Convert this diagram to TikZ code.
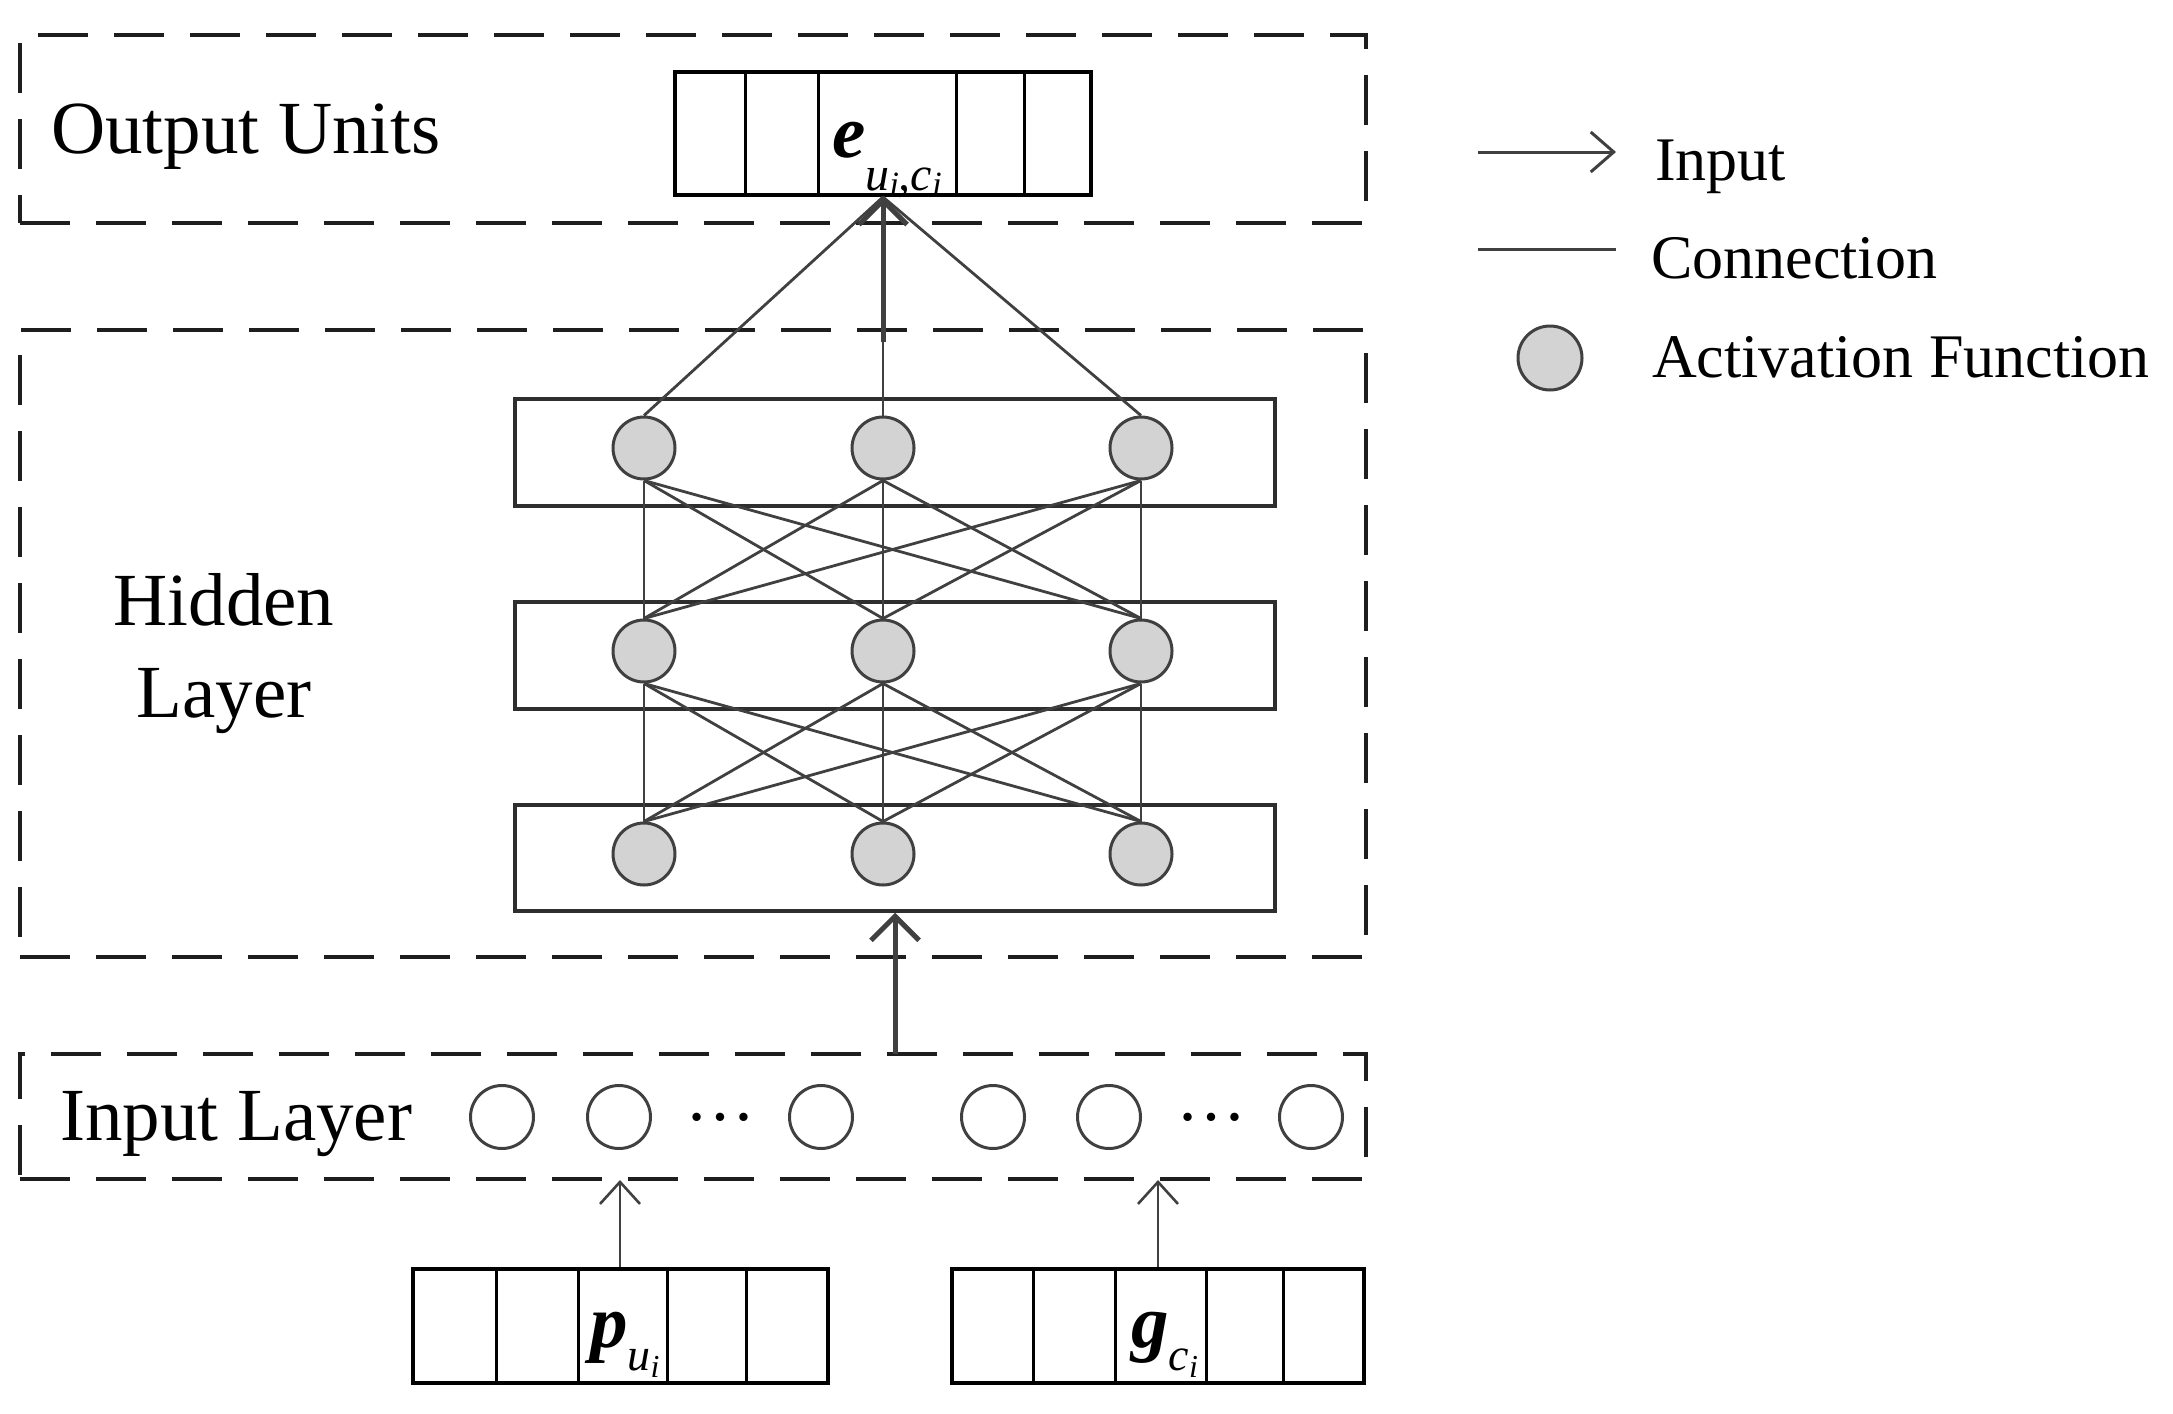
\documentclass[tikz,border=0pt]{standalone}
\usepackage{fontspec}
\setmainfont{Liberation Serif}
\usetikzlibrary{arrows.meta}
\definecolor{dline}{HTML}{1E1E1E}
\definecolor{rline}{HTML}{2E2E2E}
\definecolor{cline}{HTML}{404040}
\definecolor{nfill}{HTML}{D3D3D3}
\begin{document}
\begin{tikzpicture}[x=1pt,y=-1pt,
  dbox/.style={draw=dline, line width=3.5pt, dash pattern=on 50pt off 26pt, rectangle, inner sep=0pt},
  hrect/.style={draw=rline, line width=3.5pt, rectangle, inner sep=0pt, minimum width=760pt},
  vecbox/.style={draw=black, line width=4pt, rectangle, inner sep=0pt},
  divl/.style={draw=black, line width=3pt},
  hnode/.style={circle, draw=cline, fill=nfill, line width=3pt, minimum size=62pt, inner sep=0pt},
  inode/.style={circle, draw=cline, line width=3pt, minimum size=63pt, inner sep=0pt},
  conn/.style={draw=cline, line width=2.8pt},
  bigarrow/.style={draw=cline, line width=5pt, -{Straight Barb[length=24pt, width=48pt]}},
  smallarrow/.style={draw=cline, line width=2.6pt, -{Straight Barb[length=22pt, width=40pt]}},
  bigtext/.style={font=\fontsize{75}{90}\selectfont, inner sep=0pt},
  legtext/.style={font=\fontsize{62}{74}\selectfont, inner sep=0pt, anchor=base west},
  lab/.style={font=\fontsize{75}{90}\selectfont, inner sep=0pt, anchor=base west}
]
\useasboundingbox (0,0) rectangle (2173,1413);

% dashed layer boxes
\node[dbox, minimum width=1346pt, minimum height=188pt] (obox) at (693,129) {};
\node[dbox, minimum width=1346pt, minimum height=627pt] (hbox) at (693,643.5) {};
\node[dbox, minimum width=1346pt, minimum height=125pt] (ibox) at (693,1116.5) {};

% layer labels
\node[bigtext, anchor=base west] (outlab) at (51,153) {Output Units};
\node[bigtext, anchor=base] (hidlab1) at (224,625) {Hidden};
\node[bigtext, anchor=base] (hidlab2) at (224,717) {Layer};
\node[bigtext, anchor=base west] (inlab) at (60,1140) {Input Layer};

% output vector
\node[vecbox, minimum width=416pt, minimum height=123pt] (out) at (883,133.5) {};
\foreach \x in {745,818,956,1024} \draw[divl] (\x,72) -- (\x,195);
\node[lab] (elab) at (832,157) {\textbf{\textit{e}}\raisebox{-33pt}{\fontsize{48}{48}\selectfont\itshape u\raisebox{-5pt}{\fontsize{34}{34}\selectfont i},c\raisebox{-5pt}{\fontsize{34}{34}\selectfont i}}};

% hidden rectangles
\node[hrect, minimum height=107pt] (hr1) at (895,452.5) {};
\node[hrect, minimum height=107pt] (hr2) at (895,655.5) {};
\node[hrect, minimum height=106pt] (hr3) at (895,858) {};

% hidden nodes
\foreach \r/\y in {1/448,2/651,3/854}{
  \node[hnode] (h\r1) at (644,\y) {};
  \node[hnode] (h\r2) at (883,\y) {};
  \node[hnode] (h\r3) at (1141,\y) {};
}

% full connections between hidden rows
\foreach \a/\b in {1/2,2/3}{
  \foreach \i in {1,2,3}{
    \foreach \j in {1,2,3}{
      \draw[conn] (h\a\i.south) -- (h\b\j.north);
    }
  }
}

% connections to output
\draw[conn] (h11.north) -- (out.south);
\draw[conn] (h12.north) -- (out.south);
\draw[conn] (h13.north) -- (out.south);
\coordinate (oarr) at (883,342);
\draw[bigarrow] (oarr) -- (out.south);

% input arrow to hidden layer
\coordinate (iarr) at (895,1054);
\draw[bigarrow] (iarr) -- (hr3.south);

% input layer units
\node[inode] (i1) at (502,1117) {};
\node[inode] (i2) at (619,1117) {};
\node[bigtext, font=\fontsize{70}{80}\selectfont, anchor=center] (d1) at (720,1117) {…};
\node[inode] (i3) at (821,1117) {};
\node[inode] (i4) at (993,1117) {};
\node[inode] (i5) at (1109,1117) {};
\node[bigtext, font=\fontsize{70}{80}\selectfont, anchor=center] (d2) at (1211,1117) {…};
\node[inode] (i6) at (1311,1117) {};

% bottom vectors
\node[vecbox, minimum width=415pt, minimum height=114pt] (pv) at (620.5,1326) {};
\foreach \x in {496,578,667,746} \draw[divl] (\x,1269) -- (\x,1383);
\node[lab] (plab) at (590,1347) {\textbf{\textit{p}}\raisebox{-23pt}{\fontsize{46}{46}\selectfont\itshape u\raisebox{-7pt}{\fontsize{32}{32}\selectfont i}}};

\node[vecbox, minimum width=412pt, minimum height=114pt] (gv) at (1158,1326) {};
\foreach \x in {1033,1115,1206,1283} \draw[divl] (\x,1269) -- (\x,1383);
\node[lab] (glab) at (1131,1347) {\textbf{\textit{g}}\raisebox{-23pt}{\fontsize{46}{46}\selectfont\itshape c\raisebox{-7pt}{\fontsize{32}{32}\selectfont i}}};

% arrows from vectors to input layer
\coordinate (pin) at (620,1180);
\coordinate (gin) at (1158,1180);
\draw[smallarrow] (pv.north -| pin) -- (pin);
\draw[smallarrow] (gv.north) -- (gin);

% legend
\coordinate (la1) at (1478,152);
\coordinate (la2) at (1616,152);
\draw[draw=cline, line width=3pt, -{Straight Barb[length=23pt, width=40pt]}] (la1) -- (la2);
\node[legtext] (lt1) at (1655,180) {Input};
\coordinate (lc1) at (1478,249);
\coordinate (lc2) at (1616,249);
\draw[draw=cline, line width=3pt] (lc1) -- (lc2);
\node[legtext] (lt2) at (1651,278) {Connection};
\node[hnode, minimum size=64pt] (lcirc) at (1550,358) {};
\node[legtext] (lt3) at (1652,377) {Activation Function};
\end{tikzpicture}
\end{document}
